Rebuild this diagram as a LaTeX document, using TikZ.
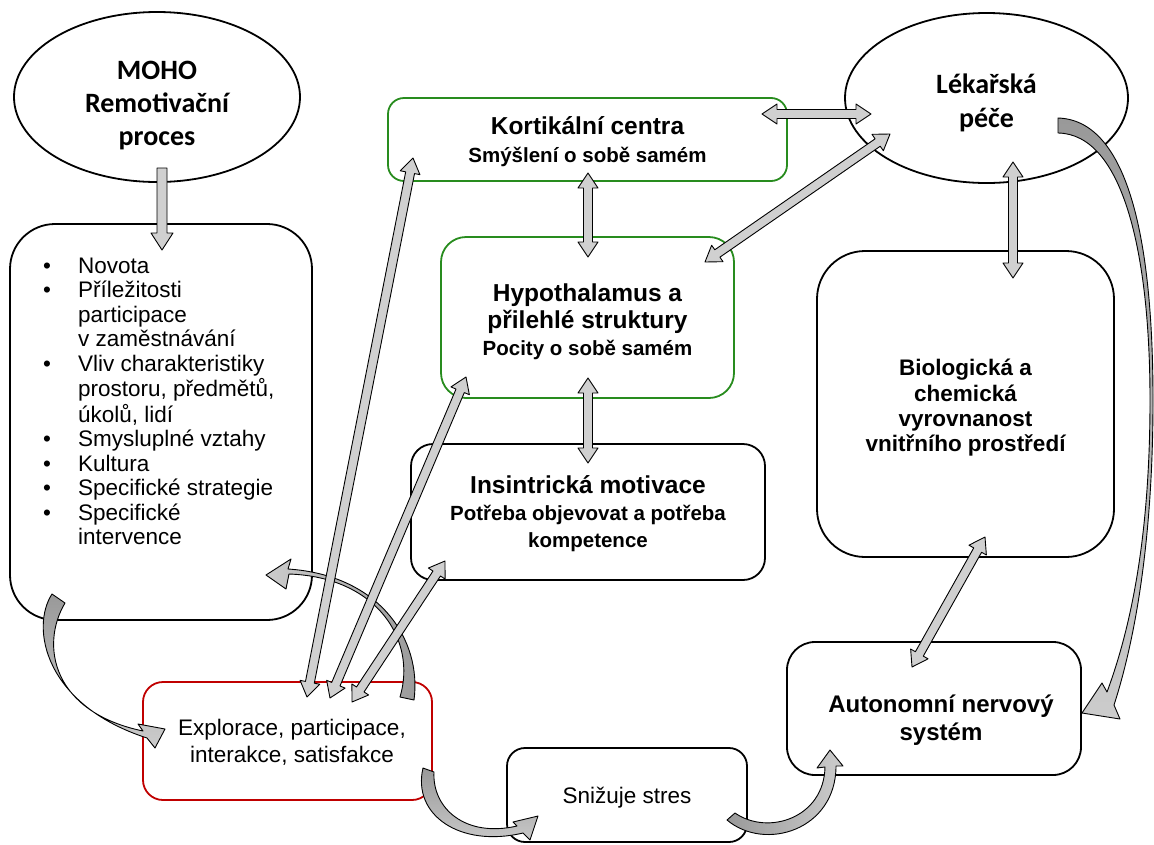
\documentclass[tikz,border=0pt]{standalone}
\usepackage{fontspec}
\setmainfont{Liberation Sans}
\newfontfamily\calibri{Carlito}
\usetikzlibrary{calc,shapes.geometric}
\definecolor{grn}{RGB}{40,140,30}
\definecolor{rd}{RGB}{192,0,0}
\definecolor{afill}{RGB}{208,208,208}
\def\ahl{15pt}
\def\ahw{10pt}
\def\asw{4.5pt}
\newcommand\dblarrow[2]{%
 \filldraw[blockarrow] (#1) -- ($(#1)!\ahl!(#2)!\ahw!90:(#2)$) -- ($(#1)!\ahl!(#2)!\asw!90:(#2)$)
  -- ($(#2)!\ahl!(#1)!\asw!-90:(#1)$) -- ($(#2)!\ahl!(#1)!\ahw!-90:(#1)$) -- (#2)
  -- ($(#2)!\ahl!(#1)!\ahw!90:(#1)$) -- ($(#2)!\ahl!(#1)!\asw!90:(#1)$)
  -- ($(#1)!\ahl!(#2)!\asw!-90:(#2)$) -- ($(#1)!\ahl!(#2)!\ahw!-90:(#2)$) -- cycle;}
\newcommand\sglarrow[2]{%
 \filldraw[blockarrow] ($(#1)!\asw!90:(#2)$)
  -- ($(#2)!\ahl!(#1)!\asw!-90:(#1)$) -- ($(#2)!\ahl!(#1)!\ahw!-90:(#1)$) -- (#2)
  -- ($(#2)!\ahl!(#1)!\ahw!90:(#1)$) -- ($(#2)!\ahl!(#1)!\asw!90:(#1)$)
  -- ($(#1)!\asw!-90:(#2)$) -- cycle;}
\begin{document}
\begin{tikzpicture}[x=1pt,y=-1pt,line join=round,
  bx/.style={draw=black, line width=1.8pt, rectangle, inner sep=0pt, outer sep=0pt},
  ell/.style={draw=black, line width=1.8pt, ellipse, inner sep=0pt, outer sep=0pt},
  txt/.style={align=center, inner sep=0pt},
  blockarrow/.style={fill=afill, draw=black, line width=0.9pt},
  curvarrow/.style={draw=black, line width=0.9pt}]
\useasboundingbox (0,0) rectangle (1154,844);
% shapes
\node[ell, minimum width=286pt, minimum height=170pt] (moho) at (157,97) {};
\node[ell, minimum width=283pt, minimum height=170pt] (lek) at (986.5,98) {};
\node[bx, minimum width=302pt, minimum height=396pt, rounded corners=45pt] (list) at (161,422) {};
\node[bx, draw=grn, minimum width=399pt, minimum height=83pt, rounded corners=16pt] (kort) at (587.5,139.5) {};
\node[bx, draw=grn, minimum width=293pt, minimum height=161pt, rounded corners=25pt] (hypo) at (587.5,317.5) {};
\node[bx, minimum width=354pt, minimum height=136pt, rounded corners=22pt] (insi) at (588,512) {};
\node[bx, minimum width=297pt, minimum height=306pt, rounded corners=48pt] (bio) at (965.5,404) {};
\node[bx, minimum width=294pt, minimum height=133pt, rounded corners=28pt] (auto) at (934,708.5) {};
\node[bx, draw=rd, minimum width=289pt, minimum height=118pt, rounded corners=20pt] (expl) at (287.5,741) {};
\node[bx, minimum width=240pt, minimum height=94pt, rounded corners=18pt] (sniz) at (627,795) {};
% texts
\node[txt, font=\calibri\bfseries\fontsize{28}{33}\selectfont] (mohot) at (moho.center) [yshift=-9pt] {MOHO\\Remotivační\\proces};
\node[txt, font=\calibri\bfseries\fontsize{28}{34}\selectfont] (lekt) at (lek.center) [yshift=-5pt] {Lékařská\\péče};
\node[txt, font=\bfseries\fontsize{24.5}{28}\selectfont] (kortt) at (587.5,142) {Kortikální centra\\\fontsize{20.5}{28}\selectfont Smýšlení o sobě samém};
\node[txt, font=\bfseries\fontsize{24.5}{27}\selectfont] (hypot) at (587.5,321.5) {Hypothalamus a\\přilehlé struktury\\\fontsize{20.5}{27}\selectfont Pocity o sobě samém};
\node[txt, font=\bfseries\fontsize{24.5}{27}\selectfont] (insit) at (588,514) {Insintrická motivace\\\fontsize{20.5}{24}\selectfont Potřeba objevovat a potřeba\\\fontsize{20.5}{24}\selectfont kompetence};
\node[txt, font=\bfseries\fontsize{22.5}{25.3}\selectfont] (biot) at (965.5,408) {Biologická a\\chemická\\vyrovnanost\\vnitřního prostředí};
\node[txt, font=\bfseries\fontsize{24}{28}\selectfont] (autot) at (941,720) {Autonomní nervový\\systém};
\node[txt, font=\fontsize{22.5}{27}\selectfont] (explt) at (292,742) {Explorace, participace,\\interakce, satisfakce};
\node[txt, font=\fontsize{22.5}{27}\selectfont] (snizt) at (627,798) {Snižuje stres};
\node[anchor=north west, inner sep=0pt, font=\fontsize{22.5}{24.5}\selectfont] (listt) at (43,256) {%
\begin{tabular}{@{}l@{\hspace{27pt}}l@{}}
•&Novota\\
•&Příležitosti\\
&participace\\
&v zaměstnávání\\
•&Vliv charakteristiky\\
&prostoru, předmětů,\\
&úkolů, lidí\\
•&Smysluplné vztahy\\
•&Kultura\\
•&Specifické strategie\\
•&Specifické\\
&intervence
\end{tabular}};
% curved arrows
\path[curvarrow, top color=gray!80, bottom color=gray!40]
  (52,594) .. controls (30,628) and (45,705) .. (147,738) -- (155,748) -- (165,729) -- (138,724) -- (143,731)
  .. controls (52,712) and (40,645) .. (65,603) -- cycle;
\path[curvarrow, right color=gray!80, left color=gray!40]
  (414,700) .. controls (422,640) and (380,575) .. (288,569) -- (291,559) -- (266,575) -- (286,589) -- (289,574)
  .. controls (377,577) and (417,640) .. (400,697) -- cycle;
\path[curvarrow, top color=gray!80, bottom color=gray!40]
  (423,768) .. controls (412,815) and (460,848) .. (523,833) -- (530,840) -- (538,816) -- (513,822) -- (517,826)
  .. controls (465,838) and (432,808) .. (434,772) -- cycle;
\path[curvarrow, left color=gray!80, right color=gray!40]
  (727,820) .. controls (765,852) and (836,830) .. (836,766) -- (843,766) -- (830,750) -- (817,768) -- (825,767)
  .. controls (824,818) and (768,836) .. (735,813) -- cycle;
\path[curvarrow, top color=gray!80, bottom color=gray!40]
  (1058,118) .. controls (1125,120) and (1153,230) .. (1153,400) .. controls (1153,540) and (1135,640) .. (1114,705)
  -- (1120,719) -- (1082,713) -- (1102,683) -- (1107,692)
  .. controls (1130,630) and (1150,540) .. (1150,400) .. controls (1150,250) and (1122,134) .. (1058,133) -- cycle;
% straight block arrows
\coordinate (mohoA) at (162,168);
\coordinate (listA) at (162,250);
\coordinate (kortR) at (762,114);
\coordinate (lekL) at (871,114);
\coordinate (kortB) at (588,173);
\coordinate (hypoT) at (588,257);
\coordinate (lekLB) at (890,134);
\coordinate (hypoR) at (705,262);
\coordinate (hypoB) at (588,378);
\coordinate (insiT) at (588,463);
\coordinate (lekB) at (1013,162);
\coordinate (bioT) at (1013,278);
\coordinate (bioB) at (985,537);
\coordinate (autoT) at (912,667);
\coordinate (kortL) at (413,158);
\coordinate (explK) at (307,697);
\coordinate (hypoL) at (466,377);
\coordinate (explH) at (330,698);
\coordinate (insiL) at (445,561);
\coordinate (explI) at (352,702);
{\def\ahw{11pt}\def\asw{5pt}\def\ahl{17pt}\sglarrow{mohoA}{listA}}
\dblarrow{kortR}{lekL}
\dblarrow{kortB}{hypoT}
\dblarrow{lekLB}{hypoR}
\dblarrow{hypoB}{insiT}
\dblarrow{lekB}{bioT}
\dblarrow{bioB}{autoT}
\dblarrow{kortL}{explK}
\dblarrow{hypoL}{explH}
\dblarrow{insiL}{explI}
\end{tikzpicture}
\end{document}
